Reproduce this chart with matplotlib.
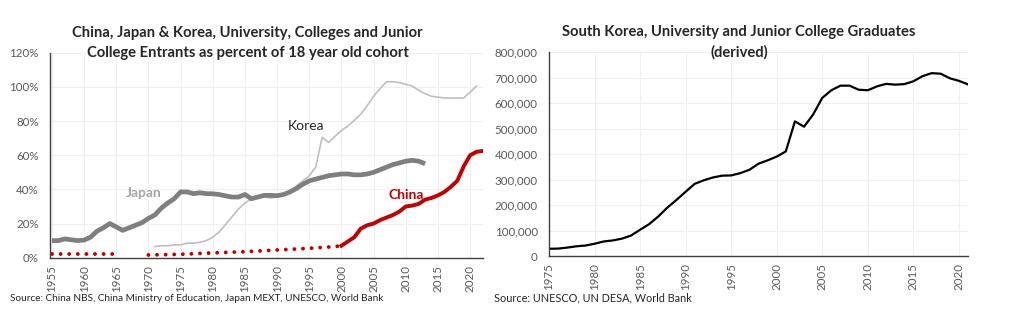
import numpy as np
import matplotlib.pyplot as plt
from matplotlib.ticker import FuncFormatter

plt.rcParams['font.family'] = ['Lato', 'DejaVu Sans']

# Left chart: entrants as % of 18 year old cohort
japan_years = list(range(1955, 2014))
japan = [10, 10, 11, 10.5, 10, 10.3, 12, 15.5, 17.5, 20, 18, 16, 17.5, 19, 20.5,
         23, 25, 29, 32, 34.5, 38.5, 38.5, 37.5, 38, 37.5, 37.4, 37, 36.2, 35.5,
         35.5, 37, 34.5, 35.5, 36.5, 36.5, 36.3, 37, 38.5, 40.5, 43, 45, 46, 47,
         48, 48.5, 49, 49, 48.5, 48.5, 49, 50, 51.5, 53, 54.5, 55.5, 56.5, 57,
         56.5, 55]

korea_years = list(range(1971, 2022))
korea = [6.5, 7, 7, 7.5, 7.5, 8.5, 8.5, 9, 10, 12, 15, 19.5, 24, 28.5, 32, 34.5,
         35.5, 35.5, 35, 35.5, 37, 39, 42, 45, 48, 53, 70.5, 67.5, 71, 74.5, 77,
         80.5, 84, 89, 94.5, 99, 103, 103, 102.5, 101.5, 100.5, 98, 96, 94.5, 94,
         93.5, 93.5, 93.5, 93.5, 97, 100.5]

china_early_years = list(range(1955, 1966))
china_early = [2.0] * 11
china_mid_years = [1970, 1975, 1980, 1985, 1990, 1995, 1999, 2000]
china_mid = [1.6, 2.0, 2.8, 3.5, 4.5, 5.5, 6.5, 7.0]
china_years = list(range(2000, 2023))
china = [7, 9.5, 12, 17, 19, 20, 22, 23.5, 25, 27, 30, 30.5, 31.5, 34, 35, 36.5,
         38.5, 41.5, 45, 53.5, 60, 62, 62.5]

# Right chart: South Korea graduates
grad_years = list(range(1975, 2022))
grads = [28500, 29000, 33000, 38000, 41000, 48000, 57000, 61000, 68000, 80000,
         103000, 125000, 155000, 190000, 220000, 252000, 283000, 297000, 308000,
         315000, 316000, 325000, 338000, 362000, 375000, 390000, 410000, 528000,
         507000, 555000, 620000, 650000, 668000, 668000, 652000, 650000, 665000,
         675000, 672000, 674000, 685000, 705000, 717000, 715000, 697000, 687000,
         673000]

tick_col = '#595959'
grid_col = '#efefef'

fig = plt.figure(figsize=(10.24, 3.23), dpi=100)

def style_axes(ax):
    for s in ['top', 'right']:
        ax.spines[s].set_visible(False)
    for s in ['left', 'bottom']:
        ax.spines[s].set_color('#404040')
        ax.spines[s].set_linewidth(1)
    ax.grid(True, color=grid_col, lw=0.8)
    ax.set_axisbelow(True)
    ax.tick_params(length=0, labelsize=8.3, colors=tick_col)
    ax.tick_params(axis='y', pad=8)
    ax.tick_params(axis='x', pad=5)
    plt.setp(ax.get_xticklabels(), rotation=90)

# left
ax1 = fig.add_axes([0.0488, 0.2022, 0.4229, 0.6346])
ax1.plot(korea_years, korea, color='#bfbfbf', lw=1.2)
ax1.plot(japan_years, japan, color='#7f7f7f', lw=3.4, solid_capstyle='butt')
dots = dict(color='#c00000', lw=2.8, linestyle=(0, (0.01, 2.2)), dash_capstyle='round')
ax1.plot(china_early_years, china_early, **dots)
ax1.plot(china_mid_years, china_mid, **dots)
ax1.plot(china_years, china, color='#c00000', lw=2.8)
ax1.set_xlim(1954.7, 2022)
ax1.set_ylim(0, 120)
ax1.set_xticks(range(1955, 2021, 5))
ax1.set_yticks(range(0, 121, 20))
ax1.yaxis.set_major_formatter(FuncFormatter(lambda v, p: '%d%%' % v))
style_axes(ax1)
ax1.text(1969.3, 37.9, 'Japan', color='#a6a6a6', fontsize=10, fontweight='bold', ha='center', va='center')
ax1.text(1994.5, 77, 'Korea', color='#262626', fontsize=10, ha='center', va='center')
ax1.text(2010.1, 36.7, 'China', color='#c00000', fontsize=10, fontweight='bold', ha='center', va='center')
fig.text(0.242, 0.866, 'China, Japan & Korea, University, Colleges and Junior\nCollege Entrants as percent of 18 year old cohort',
         ha='center', va='center', fontsize=10.6, fontweight='bold', color='#262626', linespacing=1.55)
fig.text(0.01, 0.077, 'Source: China NBS, China Ministry of Education, Japan MEXT, UNESCO, World Bank',
         fontsize=7.2, color='#262626', va='center')

# right
ax2 = fig.add_axes([0.5361, 0.2074, 0.4092, 0.6316])
ax2.plot(grad_years, grads, color='black', lw=1.6)
ax2.set_xlim(1975, 2021)
ax2.set_ylim(0, 800000)
ax2.set_xticks(range(1975, 2021, 5))
ax2.set_yticks(range(0, 800001, 100000))
ax2.yaxis.set_major_formatter(FuncFormatter(lambda v, p: '{:,.0f}'.format(v)))
style_axes(ax2)
fig.text(0.7215, 0.869, 'South Korea, University and Junior College Graduates\n(derived)',
         ha='center', va='center', fontsize=10.6, fontweight='bold', color='#262626', linespacing=1.55)
fig.text(0.482, 0.077, 'Source: UNESCO, UN DESA, World Bank',
         fontsize=7.8, color='#262626', va='center')

fig.savefig('out.png', dpi=100)
